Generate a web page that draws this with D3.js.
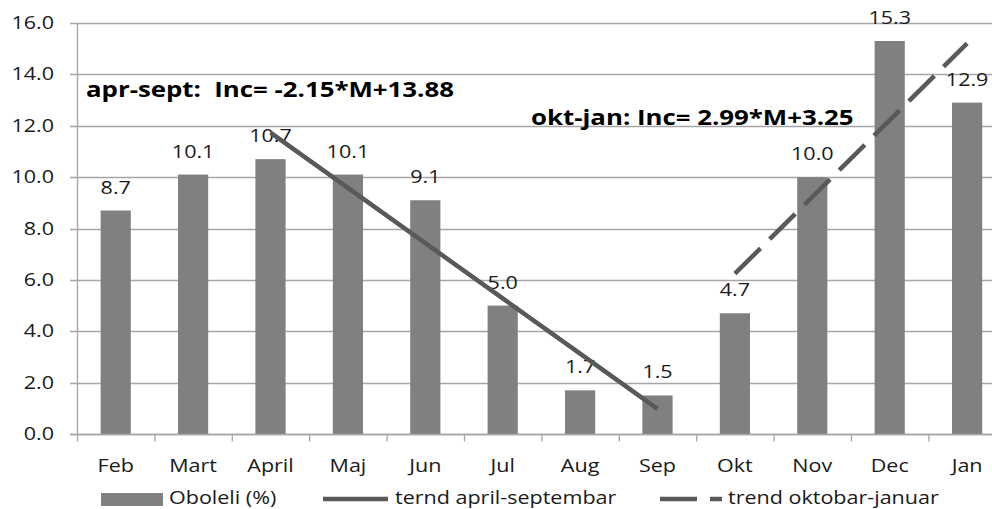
<!DOCTYPE html>
<html>
<head>
<meta charset="utf-8">
<script src="https://cdn.jsdelivr.net/npm/d3@7"></script>
<style>
  body { margin: 0; background: #fff; }
  svg text { font-family: "Open Sans", sans-serif; fill: #1a1a1a; }
</style>
</head>
<body>
<div id="chart"></div>
<script>
// data
var months = ['Feb', 'Mart', 'April', 'Maj', 'Jun', 'Jul', 'Aug', 'Sep', 'Okt', 'Nov', 'Dec', 'Jan'];
var oboleli = [8.7, 10.1, 10.7, 10.1, 9.1, 5.0, 1.7, 1.5, 4.7, 10.0, 15.3, 12.9];
var yTicks = [0, 2, 4, 6, 8, 10, 12, 14, 16];

// trend lines: Inc = a*M + b, M counted from the first month of each span
var trend1 = {from: 'April', to: 'Sep', a: -2.15, b: 13.88, label: 'apr-sept:  Inc= -2.15*M+13.88'};
var trend2 = {from: 'Okt', to: 'Jan', a: 2.99, b: 3.25, label: 'okt-jan: Inc= 2.99*M+3.25'};
var legendNames = ['Oboleli (%)', 'ternd april-septembar', 'trend oktobar-januar'];

var width = 992, height = 509;
var margin = {left: 77, top: 23, bottom: 75};
var barColor = '#808080', lineColor = '#595959', gridColor = '#a6a6a6';
var sx = 1.23; // the original text is drawn a bit wide

var svg = d3.select('#chart').append('svg')
    .attr('width', width)
    .attr('height', height);

var x = d3.scaleBand()
    .domain(months)
    .range([margin.left, margin.left + 12 * 77.4])
    .paddingInner(0.61)
    .paddingOuter(0.305);

var y = d3.scaleLinear()
    .domain([0, 16])
    .range([height - margin.bottom, margin.top]);

var center = function(m) { return x(m) + x.bandwidth() / 2; };

// put text at (px, py) and widen it
var place = function(sel, px, py) {
    return sel.attr('transform', function(d, i) {
        var a = typeof px == 'function' ? px(d, i) : px;
        var b = typeof py == 'function' ? py(d, i) : py;
        return 'translate(' + a + ',' + b + ') scale(' + sx + ',1)';
    });
};

// grid
svg.append('g')
    .selectAll('line')
    .data(yTicks)
    .enter()
    .append('line')
    .attr('x1', margin.left - 7)
    .attr('x2', width)
    .attr('y1', function(d) { return Math.round(y(d)) + 0.5; })
    .attr('y2', function(d) { return Math.round(y(d)) + 0.5; })
    .style('stroke', gridColor)
    .style('stroke-width', 1.3);

// y labels
place(svg.append('g')
    .selectAll('text')
    .data(yTicks)
    .enter()
    .append('text')
    .attr('text-anchor', 'end')
    .style('font-size', '17.5px')
    .text(function(d) { return d.toFixed(1); }),
    54, function(d) { return y(d) + 6; });

// bars
svg.append('g')
    .selectAll('rect')
    .data(oboleli)
    .enter()
    .append('rect')
    .attr('x', function(d, i) { return x(months[i]); })
    .attr('y', function(d) { return y(d); })
    .attr('width', x.bandwidth())
    .attr('height', function(d) { return y(0) - y(d); })
    .style('fill', barColor);

// axes lines
var axisY = Math.round(y(0)) + 0.5;
svg.append('line')
    .attr('x1', margin.left + 0.5).attr('x2', margin.left + 0.5)
    .attr('y1', margin.top).attr('y2', axisY)
    .style('stroke', gridColor).style('stroke-width', 1.3);

svg.append('line')
    .attr('x1', margin.left - 7).attr('x2', width)
    .attr('y1', axisY).attr('y2', axisY)
    .style('stroke', gridColor).style('stroke-width', 1.3);

svg.append('g')
    .selectAll('line')
    .data(d3.range(13))
    .enter()
    .append('line')
    .attr('x1', function(i) { return margin.left + 0.5 + i * x.step(); })
    .attr('x2', function(i) { return margin.left + 0.5 + i * x.step(); })
    .attr('y1', axisY)
    .attr('y2', axisY + 7)
    .style('stroke', gridColor)
    .style('stroke-width', 1.3);

// category labels
place(svg.append('g')
    .selectAll('text')
    .data(months)
    .enter()
    .append('text')
    .attr('text-anchor', 'middle')
    .style('font-size', '17.5px')
    .text(function(d) { return d; }),
    function(d) { return center(d); }, 472);

// value labels
place(svg.append('g')
    .selectAll('text')
    .data(oboleli)
    .enter()
    .append('text')
    .attr('text-anchor', 'middle')
    .style('font-size', '17.5px')
    .text(function(d) { return d.toFixed(1); }),
    function(d, i) { return center(months[i]); },
    function(d) { return y(d) - 17; });

// trend lines
var trendPoints = function(t) {
    var i0 = months.indexOf(t.from), i1 = months.indexOf(t.to);
    return d3.range(i0, i1 + 1).map(function(i, k) {
        return [center(months[i]), y(t.a * (k + 1) + t.b)];
    });
};

var line = d3.line();

svg.append('path')
    .attr('d', line(trendPoints(trend1)))
    .style('fill', 'none')
    .style('stroke', lineColor)
    .style('stroke-width', 4.5);

svg.append('path')
    .attr('d', line(trendPoints(trend2)))
    .style('fill', 'none')
    .style('stroke', lineColor)
    .style('stroke-width', 4.5)
    .style('stroke-dasharray', '36,13');

// equations
place(svg.append('text')
    .style('font-size', '21px').style('font-weight', 'bold')
    .style('fill', '#000')
    .attr('xml:space', 'preserve')
    .text(trend1.label), 86, 97);

place(svg.append('text')
    .style('font-size', '21px').style('font-weight', 'bold')
    .style('fill', '#000')
    .text(trend2.label), 531, 125);

// legend
var legend = svg.append('g');
legend.append('rect')
    .attr('x', 101).attr('y', 493).attr('width', 62).attr('height', 13)
    .style('fill', barColor);
place(legend.append('text')
    .style('font-size', '17.5px')
    .text(legendNames[0]), 169, 504);

legend.append('line')
    .attr('x1', 323).attr('x2', 388).attr('y1', 499).attr('y2', 499)
    .style('stroke', lineColor).style('stroke-width', 4.5);
place(legend.append('text')
    .style('font-size', '17.5px')
    .text(legendNames[1]), 395, 504);

legend.append('line')
    .attr('x1', 660).attr('x2', 722).attr('y1', 499).attr('y2', 499)
    .style('stroke', lineColor).style('stroke-width', 4.5)
    .style('stroke-dasharray', '37,13');
place(legend.append('text')
    .style('font-size', '17.5px')
    .text(legendNames[2]), 728, 504);
</script>
</body>
</html>
